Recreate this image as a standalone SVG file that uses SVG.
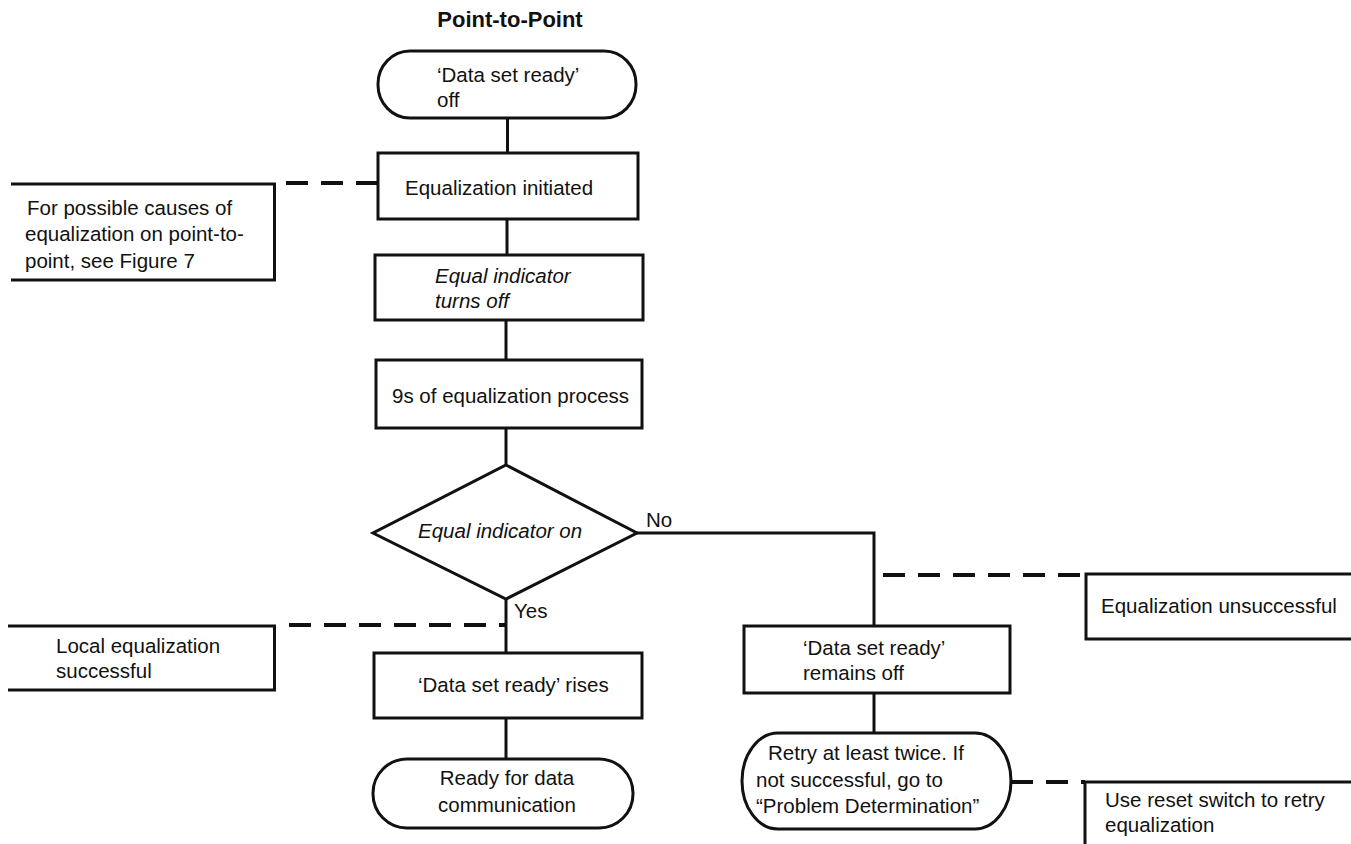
<svg xmlns="http://www.w3.org/2000/svg" width="1351" height="844" viewBox="0 0 1351 844">
<style>
.b{fill:#fff;stroke:#111;stroke-width:3}
.s{fill:none;stroke:#111;stroke-width:3}
.d{fill:none;stroke:#111;stroke-width:4;stroke-dasharray:22 13}
text{font-family:"Liberation Sans",Arial,sans-serif;font-size:20.5px;fill:#111}
.i{font-style:italic}
.t{font-weight:bold;font-size:22px}
.m{text-anchor:middle}
</style>
<rect width="1351" height="844" fill="#fff"/>
<text class="t m" x="510" y="27">Point-to-Point</text>
<g id="connectors">
<path class="s" d="M507.5,118V153"/>
<path class="s" d="M507,219V255"/>
<path class="s" d="M506,320V360"/>
<path class="s" d="M506,428V465"/>
<path class="s" d="M506,599V653"/>
<path class="s" d="M506,718V759"/>
<path class="s" d="M637,533H874V626"/>
<path class="s" d="M874,693V733"/>
<path class="d" d="M286,183H378"/>
<path class="d" d="M289,625H506"/>
<path class="d" d="M883,575H1086"/>
<path class="d" d="M1011,782H1085"/>
<text x="646" y="527">No</text>
<text x="514" y="618">Yes</text>
</g>
<g id="start">
<rect class="b" x="378" y="51" width="258" height="67" rx="32" ry="33"/>
<text x="437" y="82">‘Data set ready’</text>
<text x="437" y="107">off</text>
</g>
<g id="eq-init">
<rect class="b" x="378" y="153" width="260" height="66"/>
<text x="405" y="195">Equalization initiated</text>
</g>
<g id="eq-off">
<rect class="b" x="375" y="255" width="268" height="65"/>
<text class="i" x="435" y="283">Equal indicator</text>
<text class="i" x="435" y="308">turns off</text>
</g>
<g id="process">
<rect class="b" x="376" y="360" width="266" height="68"/>
<text x="392" y="403">9s of equalization process</text>
</g>
<g id="decision">
<polygon class="b" points="506,465 637,533 506,599 373,533"/>
<text class="i" x="418" y="538">Equal indicator on</text>
</g>
<g id="dsr-rises">
<rect class="b" x="374" y="653" width="268" height="65"/>
<text x="418" y="692">‘Data set ready’ rises</text>
</g>
<g id="ready">
<rect class="b" x="373" y="759" width="260" height="69" rx="34" ry="34"/>
<text class="m" x="507" y="785">Ready for data</text>
<text class="m" x="507" y="812">communication</text>
</g>
<g id="dsr-off">
<rect class="b" x="744" y="626" width="266" height="67"/>
<text x="803" y="655">‘Data set ready’</text>
<text x="803" y="680">remains off</text>
</g>
<g id="retry">
<rect class="b" x="742" y="733" width="269" height="96" rx="36" ry="48"/>
<text x="768" y="760">Retry at least twice. If</text>
<text x="756" y="787">not successful, go to</text>
<text x="756" y="813">“Problem Determination”</text>
</g>
<g id="note-causes">
<path class="s" d="M11,184H274.5V280H11"/>
<text x="27" y="215">For possible causes of</text>
<text x="25" y="241">equalization on point-to-</text>
<text x="25" y="268">point, see Figure 7</text>
</g>
<g id="note-local">
<path class="s" d="M8,626H274.5V690H8"/>
<text x="56" y="653">Local equalization</text>
<text x="56" y="678">successful</text>
</g>
<g id="note-unsuccessful">
<path class="s" d="M1351,574H1086V639H1351"/>
<text x="1101" y="613">Equalization unsuccessful</text>
</g>
<g id="note-reset">
<path class="s" d="M1351,782H1085V844"/>
<text x="1105" y="807">Use reset switch to retry</text>
<text x="1105" y="832">equalization</text>
</g>
</svg>
